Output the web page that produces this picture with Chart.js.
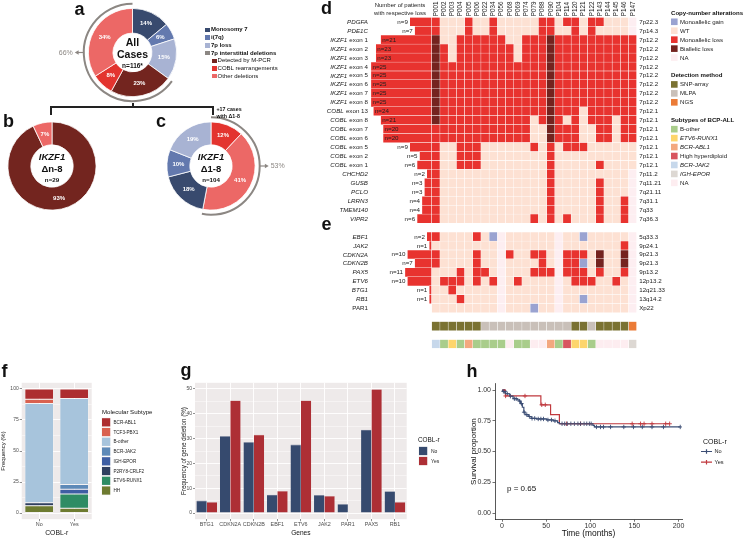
<!DOCTYPE html>
<html><head><meta charset="utf-8">
<script src="https://cdn.jsdelivr.net/npm/chart.js@4.4.1/dist/chart.umd.min.js"></script>
<style>
html,body{margin:0;padding:0;background:#fff;}
#wrap{position:relative;width:746px;height:540px;overflow:hidden;font-family:"Liberation Sans",Arial,Helvetica,sans-serif;color:#111;}
#wrap canvas{position:absolute;}
.pl{position:absolute;font-weight:bold;font-size:18px;line-height:18px;}
.ln{position:absolute;background:#222;}
.lg{position:absolute;font-size:6px;line-height:7px;white-space:nowrap;color:#111;}
.k{position:absolute;width:4.6px;height:4.6px;}
</style></head>
<body><div id="wrap">
<canvas id="cA" width="185" height="110" style="left:40px;top:0px"></canvas>
<canvas id="cB" width="105" height="100" style="left:0px;top:118px"></canvas>
<canvas id="cC" width="135" height="110" style="left:160px;top:110px"></canvas>
<canvas id="cHM" width="486" height="356" style="left:260px;top:0px"></canvas>
<canvas id="cF" width="180" height="162" style="left:0px;top:378px"></canvas>
<canvas id="cG" width="290" height="162" style="left:180px;top:378px"></canvas>
<canvas id="cH" width="276" height="170" style="left:470px;top:370px"></canvas>

<div class="pl" style="left:74.5px;top:-0.3px">a</div>
<div class="pl" style="left:3px;top:112px">b</div>
<div class="pl" style="left:156px;top:111.5px">c</div>
<div class="pl" style="left:321px;top:-1.2px">d</div>
<div class="pl" style="left:321.5px;top:214.8px">e</div>
<div class="pl" style="left:1.5px;top:361.5px">f</div>
<div class="pl" style="left:180.5px;top:361px">g</div>
<div class="pl" style="left:466.5px;top:362px">h</div>

<div class="ln" style="left:50px;top:106px;width:164px;height:1.8px"></div>
<div class="ln" style="left:50px;top:106px;width:1.8px;height:9px"></div>
<div class="ln" style="left:212.2px;top:106px;width:1.8px;height:9px"></div>
<div class="ln" style="left:132px;top:102.5px;width:1.8px;height:4.5px"></div>
<div class="lg" style="left:216.5px;top:105.5px;font-weight:bold;font-size:5.3px;line-height:7px">+17 cases<br>with Δ1-8</div>
<div id="legA"></div>
</div>
<script>
// ================= DATA =================
// Panel a/b/c doughnuts (percent)
const donutALabels = ['Monosomy 7','i(7q)','7p loss','Detected by M-PCR','COBL rearrangements','Other deletions'];
const donutAValues = [14, 6, 15, 23, 8, 34];
const donutBLabels = ['Detected by M-PCR','Other deletions'];
const donutBValues = [93, 7];
const donutCLabels = ['COBL rearrangements','Other deletions','Monosomy 7','i(7q)','7p loss'];
const donutCValues = [12, 41, 18, 10, 19];
const legendALabels = ['Monosomy 7','i(7q)','7p loss','7p interstitial deletions','Detected by M-PCR','COBL rearrangements','Other deletions'];

// Panel d/e heatmap
const patients = ['P001','P002','P003','P004','P005','P006','P022','P034','P056','P068','P069','P074','P079','P088','P090','P104','P114','P120','P121','P122','P143','P144','P145','P146','P147'];
const dGenes = ['PDGFA','PDE1C','IKZF1','IKZF1','IKZF1','IKZF1','IKZF1','IKZF1','IKZF1','IKZF1','COBL','COBL','COBL','COBL','COBL','COBL','COBL','CHCHD2','GUSB','PCLO','LRRN3','TMEM140','VIPR2'];
const dExons = ['','','exon 1','exon 2','exon 3','exon 4','exon 5','exon 6','exon 7','exon 8','exon 13','exon 8','exon 7','exon 6','exon 5','exon 2','exon 1','','','','','',''];
const dBands = ['7p22.3','7p14.3','7p12.2','7p12.2','7p12.2','7p12.2','7p12.2','7p12.2','7p12.2','7p12.2','7p12.1','7p12.1','7p12.1','7p12.1','7p12.1','7p12.1','7p12.1','7p11.2','7q11.21','7q21.11','7q31.1','7q33','7q36.3'];
const dCounts = [9,7,21,23,23,25,25,25,25,25,24,21,20,20,9,5,6,2,3,3,4,4,6];
// G = monoallelic gain, W = WT, L = monoallelic loss, B = biallelic loss, N = NA
const dCells = [
'LWWWLWWLWWWWWLLWLLWLLWWWN',
'LWWWLWWLWWWWWLLWWLWLWWWWN',
'BWWLLLLLLWWLLLBLLLLLLLLLL',
'BLWLLLLLLLWLLLBLLLLLLLLLL',
'BLWLLLLLLLWLLLBLLLLLLLLLL',
'BLLLLLLLLLLLLLBLLLLLLLLLL',
'BLLLLLLLLLLLLLBLLLLLLLLLL',
'BLLLLLLLLLLLLLBLLLLLLLLLL',
'BLLLLLLLLLLLLLBLLLLLLLLLL',
'BLLLLLLLLLLLLLBLLLLLLLLLL',
'BLLLLLLLLLLLLLBLLLWLLLLLL',
'BLLLLLLLLLLLWLBLWLWLLLWLL',
'LLLLLLLLLLLLWWBLLLWWLLWLL',
'LLLLLLLLLLLLWWBLLLWWLLWLL',
'LWWLLLWWWWWWLWLWLLLWWWWWW',
'LWWLLLWWWWWWWWLWWWWWWWWWW',
'LWWLLLWWWWWWWWLWWWWWLWWWW',
'LWWWWWWWWWWWWWLWWWWWWWWWN',
'LWWWWWWWWWWWWWLWWWWWLWWWN',
'LWWWWWWWWWWWWWLWWWWWLWWWN',
'LWWWWWWWWWWWWWLWWWWWLWWLN',
'LWWWWWWWWWWWWWLWWWWWLWWLN',
'LWWWWWWWWWWWLWLWLWWWLWWLN'
];
const eGenes = ['EBF1','JAK2','CDKN2A','CDKN2B','PAX5','ETV6','BTG1','RB1','PAR1'];
const eBands = ['5q33.3','9p24.1','9p21.3','9p21.3','9p13.2','12p13.2','12q21.33','13q14.2','Xp22'];
const eCounts = [2,1,10,7,11,10,1,1,0];
const eCells = [
'LWWWWLWGNWWWWWWNWWGWWWWWN',
'WWWWWWWWNWWWWWWNWWWWWWWLN',
'LWWWWLWWNLWWLLWNLLLWBWWBN',
'LWWWWLWWNWWWWLWNLLGWBWWBN',
'WWWLWLLWNWWWLLLNLLLWLWWLN',
'WLLLWLWLNWLWWWWNWLLLWWLWN',
'WWLWWWWWNWWWWWWNWWWWWWWWN',
'WWWLWWWWNWWWWWWNWWGWWWWWN',
'WWWWWWWWNWWWGWWNWWWWWWWWN'
];
// S = SNP-array, M = MLPA, X = NGS
const detectionRow = 'SSSSSSMMMMMMMMMMMSSMSSSSX';
// O B-other, E ETV6-RUNX1, A BCR-ABL1, H High hyperdiploid, J BCR-JAK2, I IGH-EPOR, N NA
const subtypeRow = 'JOEOAOOOONOONNAOHEEONNNNI';
const legCNALabels = ['Monoallelic gain','WT','Monoallelic loss','Biallelic loss','NA'];
const legCNAKeys = ['G','W','L','B','N'];
const legDetLabels = ['SNP-array','MLPA','NGS'];
const legDetKeys = ['S','M','X'];
const legSubLabels = ['B-other','ETV6-RUNX1','BCR-ABL1','High hyperdiploid','BCR-JAK2','IGH-EPOR','NA'];
const legSubKeys = ['O','E','A','H','J','I','N'];
const legSubItalic = [false,true,true,false,true,true,false];

// Panel f (percent, stacked bottom -> top)
const fCategories = ['No','Yes'];
const fHH = [5.9, 3.8];
const fETV6RUNX1 = [0, 11.5];
const fP2RY8CRLF2 = [2.4, 0];
const fIGHEPOR = [0, 3.8];
const fBCRJAK2 = [0, 3.8];
const fBother = [80.0, 69.4];
const fTCF3PBX1 = [3.5, 0];
const fBCRABL1 = [8.2, 7.7];
const fTicks = [0, 12.5, 25, 37.5, 50, 62.5, 75, 87.5, 100];

// Panel g
const gGenes = ['BTG1','CDKN2A','CDKN2B','EBF1','ETV6','JAK2','PAR1','PAX5','RB1'];
const gNo  = [5.0, 31.0, 28.6, 7.4, 27.6, 7.3, 3.6, 33.6, 8.8];
const gYes = [4.4, 45.4, 31.6, 8.9, 45.4, 6.9, 0, 49.9, 4.4];
const gTicks = [0,5,10,15,20,25,30,35,40,45,50];

// Panel h (Kaplan-Meier)
const kmNoTimes = [0, 1, 4, 8.7, 12.5, 17, 19.4, 21, 23, 24.7, 26, 29.7, 33, 39, 50.5, 58, 63, 65, 103, 104.6, 202];
const kmNoSurv  = [1, 0.99, 0.97, 0.95, 0.93, 0.92, 0.91, 0.89, 0.86, 0.82, 0.80, 0.785, 0.77, 0.765, 0.757, 0.75, 0.735, 0.726, 0.713, 0.70, 0.70];
const kmYesTimes = [0, 3.8, 44, 55, 65, 190];
const kmYesSurv  = [1, 0.952, 0.88, 0.80, 0.726, 0.726];
const kmNoCensor = [1.5, 2.5, 3, 6, 9.5, 14, 16, 20, 22, 25, 28, 31, 34, 37, 41, 44, 47, 52, 56, 60, 68, 71, 74, 78, 82, 86, 89, 93, 96, 99, 101, 107, 111.6, 115, 123, 138, 149, 159, 170, 183, 202];
const kmYesCensor = [4, 26, 45, 49, 73, 89, 147.5, 157, 161, 170, 185.5, 190];
const hXTicks = [0, 50, 100, 150, 200];
const hYTicks = [0, 0.25, 0.5, 0.75, 1];

// ================= STYLE =================
const FF = '"Liberation Sans", Arial, sans-serif';
const fnt = (st, sz) => `${st} ${sz}px ${FF}`;
Chart.defaults.font.family = FF;
Chart.defaults.color = '#333';
const cMono = '#384a6e', cI7q = '#6379ae', c7p = '#a8b3d3', cMPCR = '#73251f', cCOBL = '#e3342f', cOther = '#ec6866', cGray = '#8c8783';
const cnaColors = {G:'#9aa3d1', W:'#fde1d3', L:'#e8332f', B:'#74231f', N:'#fdeef1'};
const detColors = {S:'#7a7232', M:'#c9c0b9', X:'#eb7b37'};
const subColors = {O:'#a9cd8b', E:'#fdd56c', A:'#f3a87f', H:'#d8555f', J:'#c7d8eb', I:'#ddd8d3', N:'#fdedf0'};

// ---------- legend a (HTML) ----------
(function(){
  const keys = [cMono, cI7q, c7p, cGray, cMPCR, cCOBL, cOther];
  const ys = [30, 37.7, 45.4, 53.1, 60.8, 68.5, 76.2];
  const box = document.getElementById('legA');
  legendALabels.forEach((t, i) => {
    const sub = i >= 4;
    const kx = sub ? 212.3 : 205.2, tx = sub ? 217.6 : 211;
    const k = document.createElement('div'); k.className = 'k';
    k.style.left = kx + 'px'; k.style.top = (ys[i] - 2.3) + 'px'; k.style.background = keys[i];
    box.appendChild(k);
    const d = document.createElement('div'); d.className = 'lg';
    d.style.left = tx + 'px'; d.style.top = (ys[i] - 3.6) + 'px';
    if (!sub) d.style.fontWeight = 'bold';
    d.textContent = t; box.appendChild(d);
  });
})();

// ---------- doughnuts ----------
function donut(id, labels, values, colors, cutout, pad, extra) {
  return new Chart(document.getElementById(id), {
    type: 'doughnut',
    data: { labels, datasets: [{ data: values, backgroundColor: colors, borderColor: '#fff', borderWidth: 0.8 }] },
    options: { responsive: false, animation: false, cutout, layout: { padding: pad },
      plugins: { legend: { display: false }, tooltip: { enabled: false } } },
    plugins: [{ id: 'donutText', afterDatasetsDraw(chart) {
      const ctx = chart.ctx, meta = chart.getDatasetMeta(0), a0 = meta.data[0];
      const cx = a0.x, cy = a0.y, R = a0.outerRadius, r = a0.innerRadius;
      ctx.save();
      ctx.textAlign = 'center'; ctx.textBaseline = 'middle';
      ctx.fillStyle = '#fff'; ctx.font = fnt('bold', 6);
      meta.data.forEach((a, i) => {
        const mid = (a.startAngle + a.endAngle) / 2, rr = (R + r) / 2;
        ctx.fillText(values[i] + '%', cx + rr * Math.cos(mid), cy + rr * Math.sin(mid));
      });
      ctx.fillStyle = '#111';
      extra.center.forEach(c => { ctx.font = c.f; ctx.fillText(c.t, cx, cy + c.dy); });
      if (extra.bracket) {
        const b = extra.bracket, rr = R + 4.6;
        ctx.strokeStyle = cGray; ctx.fillStyle = cGray; ctx.lineWidth = 2;
        ctx.beginPath(); ctx.arc(cx, cy, rr, meta.data[b.from].startAngle, meta.data[b.to].endAngle); ctx.stroke();
        const dir = b.side === 'left' ? -1 : 1, x0 = cx + dir * rr;
        ctx.lineWidth = 1.2; ctx.beginPath(); ctx.moveTo(x0, cy); ctx.lineTo(x0 + dir * 6, cy); ctx.stroke();
        ctx.beginPath(); ctx.moveTo(x0 + dir * 9, cy); ctx.lineTo(x0 + dir * 5.2, cy - 2.3); ctx.lineTo(x0 + dir * 5.2, cy + 2.3); ctx.closePath(); ctx.fill();
        ctx.font = fnt('', 7); ctx.textAlign = dir < 0 ? 'right' : 'left';
        ctx.fillText(b.text, x0 + dir * 11, cy + 0.3);
      }
      ctx.restore();
    } }]
  });
}
donut('cA', donutALabels, donutAValues, [cMono, cI7q, c7p, cMPCR, cCOBL, cOther], '44%',
  { left: 48, right: 48, top: 8, bottom: 13 },
  { center: [ { t: 'All', f: fnt('bold', 10.5), dy: -9.5 }, { t: 'Cases', f: fnt('bold', 10.5), dy: 2.5 }, { t: 'n=116*', f: fnt('bold', 6.5), dy: 13.5 } ],
    bracket: { from: 3, to: 5, text: '66%', side: 'left' } });
donut('cB', donutBLabels, donutBValues, [cMPCR, cOther], '48%',
  { left: 7.5, right: 8.5, top: 3.5, bottom: 7.5 },
  { center: [ { t: 'IKZF1', f: fnt('italic bold', 9.5), dy: -9 }, { t: 'Δn-8', f: fnt('bold', 9.5), dy: 3.5 }, { t: 'n=29', f: fnt('bold', 6.2), dy: 14.5 } ] });
donut('cC', donutCLabels, donutCValues, [cCOBL, cOther, cMono, cI7q, c7p], '48%',
  { left: 6.5, right: 39.5, top: 11.5, bottom: 9.5 },
  { center: [ { t: 'IKZF1', f: fnt('italic bold', 9.5), dy: -9 }, { t: 'Δ1-8', f: fnt('bold', 9.5), dy: 3.5 }, { t: 'n=104', f: fnt('bold', 6.2), dy: 14.5 } ],
    bracket: { from: 0, to: 1, text: '53%', side: 'right' } });

// ---------- heatmap d/e ----------
const COL_PX = 8.2, CNT_PX = 2.43, CNT_UNIT = CNT_PX / COL_PX;
const rowDefs = [];
dGenes.forEach((g, i) => rowDefs.push({ kind: 'cna', cells: dCells[i], gene: g, exon: dExons[i], band: dBands[i], n: dCounts[i] }));
rowDefs.push(null);
eGenes.forEach((g, i) => rowDefs.push({ kind: 'cna', cells: eCells[i], gene: g, exon: '', band: eBands[i], n: eCounts[i], plain: g === 'PAR1' }));
rowDefs.push(null);
rowDefs.push({ kind: 'det', cells: detectionRow });
rowDefs.push(null);
rowDefs.push({ kind: 'sub', cells: subtypeRow });
const colorOf = (r, c) => r.kind === 'cna' ? cnaColors[c] : r.kind === 'det' ? detColors[c] : subColors[c];
const hmDatasets = patients.map((p, j) => ({
  label: p,
  data: rowDefs.map(r => r ? [j, j + 1] : null),
  backgroundColor: rowDefs.map(r => r ? colorOf(r, r.cells[j]) : 'rgba(0,0,0,0)'),
  borderColor: '#fff', borderWidth: 0.5, borderSkipped: false, grouped: false,
  categoryPercentage: 1, barPercentage: 1
}));
hmDatasets.push({
  label: 'count', data: rowDefs.map(r => r && r.n ? [-r.n * CNT_UNIT, 0] : null),
  backgroundColor: cnaColors.L, borderColor: '#fff', borderWidth: 0.5, borderSkipped: false, grouped: false,
  categoryPercentage: 1, barPercentage: 1
});
const HM_LEFT = 100; // canvas px of chart-area left
const hmPlugin = { id: 'hmText', afterDatasetsDraw(chart) {
  const ctx = chart.ctx, xs = chart.scales.x, ys = chart.scales.y;
  const y0 = ys.getPixelForValue(0), rowH = ys.getPixelForValue(1) - y0;
  const labelRight = xs.getPixelForValue(-25 * CNT_UNIT) - 3;
  const bandX = xs.getPixelForValue(patients.length) + 2.5;
  ctx.save(); ctx.textBaseline = 'middle'; ctx.fillStyle = '#222';
  ctx.font = fnt('', 6.3);
  patients.forEach((p, j) => {
    ctx.save(); ctx.translate(xs.getPixelForValue(j + 0.5) + 0.3, 16.2); ctx.rotate(-Math.PI / 2);
    ctx.textAlign = 'left'; ctx.fillText(p, 0, 0); ctx.restore();
  });
  ctx.textAlign = 'center'; ctx.font = fnt('', 6);
  ctx.fillText('Number of patients', 140, 5.5); ctx.fillText('with respective loss', 140, 13.3);
  rowDefs.forEach((r, i) => {
    if (!r || !r.gene) return;
    const y = ys.getPixelForValue(i) + 0.3;
    ctx.textAlign = 'right'; let xr = labelRight;
    ctx.font = fnt('', 6.2);
    if (r.exon) { ctx.fillText(r.exon, xr, y); xr -= ctx.measureText(r.exon).width + ctx.measureText(' ').width * 1.3; }
    ctx.font = fnt(r.plain ? '' : 'italic', 6.2); ctx.fillText(r.gene, xr, y);
    ctx.font = fnt('', 6.2); ctx.textAlign = 'left'; ctx.fillText(r.band, bandX, y);
    if (r.n) {
      const bl = xs.getPixelForValue(-r.n * CNT_UNIT), t = 'n=' + r.n;
      if (r.n >= 20) { ctx.textAlign = 'left'; ctx.fillText(t, bl + 1.5, y); }
      else { ctx.textAlign = 'right'; ctx.fillText(t, bl - 2, y); }
    }
  });
  // legend
  const LX = 411, TX = 420;
  const group = (title, row0, labels, keys, cmap, ital) => {
    ctx.textAlign = 'left'; ctx.fillStyle = '#111'; ctx.font = fnt('bold', 6.1);
    ctx.fillText(title, LX, y0 + (row0 - 1) * rowH);
    labels.forEach((t, k) => {
      const y = y0 + (row0 + k) * rowH;
      ctx.fillStyle = cmap[keys[k]]; ctx.fillRect(LX, y - 3.3, 6.6, 6.6);
      ctx.fillStyle = '#222'; ctx.font = fnt(ital && ital[k] ? 'italic' : '', 6.1);
      ctx.fillText(t, TX, y + 0.3);
    });
  };
  group('Copy-number alterations', 0, legCNALabels, legCNAKeys, cnaColors);
  group('Detection method', 7, legDetLabels, legDetKeys, detColors);
  group('Subtypes of BCP-ALL', 12, legSubLabels, legSubKeys, subColors, legSubItalic);
  ctx.restore();
} };
new Chart(document.getElementById('cHM'), {
  type: 'bar',
  data: { labels: rowDefs.map((r, i) => 'r' + i), datasets: hmDatasets },
  options: {
    indexAxis: 'y', responsive: false, animation: false,
    layout: { padding: { left: HM_LEFT, right: 486 - (HM_LEFT + 71.7 + 25 * COL_PX), top: 17.3, bottom: 356 - 17.3 - 37 * 8.95 } },
    plugins: { legend: { display: false }, tooltip: { enabled: false } },
    scales: {
      x: { type: 'linear', display: false, min: -71.7 / COL_PX, max: patients.length },
      y: { type: 'category', display: false }
    }
  },
  plugins: [hmPlugin]
});

// ---------- shared ggplot bits ----------
const panelBg = { id: 'panelBg', beforeDraw(chart, args, opts) {
  const a = chart.chartArea, ctx = chart.ctx; ctx.save(); ctx.fillStyle = opts.color || '#ebebeb';
  ctx.fillRect(a.left, a.top, a.width, a.height); ctx.restore(); } };
const ggY = (ticks, major, title, width, tsize) => ({
  afterBuildTicks: s => { s.ticks = ticks.map(v => ({ value: v })); },
  grid: { color: '#fff', lineWidth: c => (c.tick && c.tick.value % major === 0) ? 0.9 : 0.45,
          tickColor: c => (c.tick && c.tick.value % major === 0) ? '#444' : 'rgba(0,0,0,0)', tickLength: 2, tickWidth: 0.6 },
  border: { display: false },
  ticks: { callback: v => v % major === 0 ? v : '', color: '#4d4d4d', font: { size: 5 }, padding: 1 },
  title: { display: true, text: title, color: '#111', font: { size: tsize }, padding: { top: 0, bottom: 0 } },
  afterFit: s => { s.width = width; }
});
const ggX = (title, tsize) => ({
  grid: { color: '#fff', lineWidth: 0.9, offset: false, tickColor: '#444', tickLength: 2, tickWidth: 0.6 },
  border: { display: false },
  ticks: { color: '#4d4d4d', font: { size: 5.4 }, padding: 0.5, autoSkip: false, maxRotation: 0 },
  title: { display: true, text: title, color: '#111', font: { size: tsize }, padding: { top: 0, bottom: 3.2 } },
  afterFit: s => { s.height = 20.8; }
});

// ---------- panel f ----------
const fSeries = [
  ['HH', fHH, '#6e7b30'], ['ETV6-RUNX1', fETV6RUNX1, '#2e8c64'], ['P2RY8-CRLF2', fP2RY8CRLF2, '#2f3f60'],
  ['IGH-EPOR', fIGHEPOR, '#3e5ea3'], ['BCR-JAK2', fBCRJAK2, '#5e8ab8'], ['B-other', fBother, '#a7c4dc'],
  ['TCF3-PBX1', fTCF3PBX1, '#d9614f'], ['BCR-ABL1', fBCRABL1, '#ad2e30']
];
new Chart(document.getElementById('cF'), {
  type: 'bar',
  data: { labels: fCategories, datasets: fSeries.map(s => ({ label: s[0], data: s[1], backgroundColor: s[2],
    borderColor: '#fff', borderWidth: 0.5, borderSkipped: false, barPercentage: 0.82, categoryPercentage: 1 })) },
  options: { responsive: false, animation: false,
    layout: { padding: { left: 0, right: 88.3, top: 4.8, bottom: 0 } },
    plugins: { legend: { display: false }, tooltip: { enabled: false }, panelBg: { color: '#eeeaea' } },
    scales: {
      x: Object.assign({ stacked: true }, ggX('COBL-r', 6.8)),
      y: Object.assign({ stacked: true, min: -5, max: 105 }, ggY(fTicks, 25, 'Frequency (%)', 21.7, 6))
    } },
  plugins: [panelBg, { id: 'fLeg', afterDraw(chart) {
    const ctx = chart.ctx; ctx.save(); ctx.textBaseline = 'middle'; ctx.textAlign = 'left';
    ctx.fillStyle = '#111'; ctx.font = fnt('', 6.1); ctx.fillText('Molecular Subtype', 102, 34.5);
    fSeries.slice().reverse().forEach((s, k) => {
      const y = 44.3 + k * 9.75;
      ctx.fillStyle = '#f2f2f2'; ctx.fillRect(101.5, y - 4.6, 9.2, 9.2);
      ctx.fillStyle = s[2]; ctx.fillRect(102, y - 4.1, 8.2, 8.2);
      ctx.fillStyle = '#222'; ctx.font = fnt('', 4.6); ctx.fillText(s[0], 113.5, y + 0.2);
    });
    ctx.restore();
  } }]
});

// ---------- panel g ----------
new Chart(document.getElementById('cG'), {
  type: 'bar',
  data: { labels: gGenes, datasets: [
    { label: 'No', data: gNo, backgroundColor: '#364a6e', borderColor: '#8a93a8', borderWidth: { top: 0.6 }, borderSkipped: false, categoryPercentage: 0.88, barPercentage: 1 },
    { label: 'Yes', data: gYes, backgroundColor: '#ad2f35', borderColor: '#c98a8d', borderWidth: { top: 0.6 }, borderSkipped: false, categoryPercentage: 0.88, barPercentage: 1 }
  ] },
  options: { responsive: false, animation: false,
    layout: { padding: { left: 0, right: 63.3, top: 4.8, bottom: 0 } },
    plugins: { legend: { display: false }, tooltip: { enabled: false }, panelBg: { color: '#eeeaea' } },
    scales: {
      x: ggX('Genes', 6.6),
      y: Object.assign({ min: -2.5, max: 52.5 }, ggY(gTicks, 10, 'Frequency of gene deletion (%)', 15, 6.3))
    } },
  plugins: [panelBg, { id: 'gLeg', afterDraw(chart) {
    const ctx = chart.ctx; ctx.save(); ctx.textBaseline = 'middle'; ctx.textAlign = 'left';
    ctx.fillStyle = '#111'; ctx.font = fnt('', 6.4); ctx.fillText('COBL-r', 238, 62);
    [['No', '#364a6e'], ['Yes', '#ad2f35']].forEach((s, k) => {
      const y = 73 + k * 10;
      ctx.fillStyle = '#f2f2f2'; ctx.fillRect(238.5, y - 4.6, 9.2, 9.2);
      ctx.fillStyle = s[1]; ctx.fillRect(239, y - 4.1, 8.2, 8.2);
      ctx.fillStyle = '#222'; ctx.font = fnt('', 5); ctx.fillText(s[0], 251, y + 0.2);
    });
    ctx.restore();
  } }]
});

// ---------- panel h ----------
const stepAt = (T, S, t) => { let s = S[0]; T.forEach((tt, i) => { if (tt <= t) s = S[i]; }); return s; };
const cNo = '#3b4d74', cYes = '#c0393e';
new Chart(document.getElementById('cH'), {
  type: 'scatter',
  data: { datasets: [
    { label: 'No', data: kmNoTimes.map((t, i) => ({ x: t, y: kmNoSurv[i] })), showLine: true, stepped: 'before', borderColor: cNo, borderWidth: 1.2, pointRadius: 0 },
    { label: 'Yes', data: kmYesTimes.map((t, i) => ({ x: t, y: kmYesSurv[i] })), showLine: true, stepped: 'before', borderColor: cYes, borderWidth: 1.2, pointRadius: 0 },
    { label: 'No censored', data: kmNoCensor.map(t => ({ x: t, y: stepAt(kmNoTimes, kmNoSurv, t) })), showLine: false, pointStyle: 'cross', pointRadius: 2.2, borderColor: cNo, borderWidth: 0.9 },
    { label: 'Yes censored', data: kmYesCensor.map(t => ({ x: t, y: stepAt(kmYesTimes, kmYesSurv, t) })), showLine: false, pointStyle: 'cross', pointRadius: 2.2, borderColor: cYes, borderWidth: 0.9 }
  ] },
  options: { responsive: false, animation: false,
    layout: { padding: { left: 0, right: 64, top: 13.9, bottom: 0 } },
    plugins: { legend: { display: false }, tooltip: { enabled: false } },
    scales: {
      x: { type: 'linear', min: -8, max: 204,
        afterBuildTicks: s => { s.ticks = hXTicks.map(v => ({ value: v })); },
        grid: { drawOnChartArea: false, tickColor: '#111', tickLength: 2.5, tickWidth: 0.6 },
        border: { display: true, color: '#111', width: 0.7 },
        ticks: { color: '#333', font: { size: 7 }, padding: 0.5, maxRotation: 0 },
        title: { display: true, text: 'Time (months)', color: '#111', font: { size: 8.4 }, padding: { top: 0, bottom: 1.5 } },
        afterFit: s => { s.height = 20.8; } },
      y: { type: 'linear', min: -0.05, max: 1.05,
        afterBuildTicks: s => { s.ticks = hYTicks.map(v => ({ value: v })); },
        grid: { drawOnChartArea: false, tickColor: '#111', tickLength: 2.5, tickWidth: 0.6 },
        border: { display: true, color: '#111', width: 0.7 },
        ticks: { color: '#333', font: { size: 7 }, padding: 1.5, callback: v => v.toFixed(2) },
        title: { display: true, text: 'Survival proportion', color: '#111', font: { size: 8, lineHeight: 1 }, padding: { top: 0, bottom: 0 } },
        afterFit: s => { s.width = 25; } }
    } },
  plugins: [{ id: 'hLeg', afterDraw(chart) {
    const ctx = chart.ctx; ctx.save(); ctx.textBaseline = 'middle'; ctx.textAlign = 'left';
    ctx.fillStyle = '#111'; ctx.font = fnt('', 8); ctx.fillText('p = 0.65', 37, 118.5);
    ctx.font = fnt('', 7); ctx.fillText('COBL-r', 233, 72.5);
    [['No', cNo], ['Yes', cYes]].forEach((s, k) => {
      const y = 81.5 + k * 10.7;
      ctx.strokeStyle = s[1]; ctx.lineWidth = 1.2;
      ctx.beginPath(); ctx.moveTo(231, y); ctx.lineTo(242, y); ctx.moveTo(236.5, y - 2.2); ctx.lineTo(236.5, y + 2.2); ctx.stroke();
      ctx.fillStyle = '#222'; ctx.font = fnt('', 5.6); ctx.fillText(s[0], 244.5, y + 0.2);
    });
    ctx.restore();
  } }]
});
</script>
</body></html>
